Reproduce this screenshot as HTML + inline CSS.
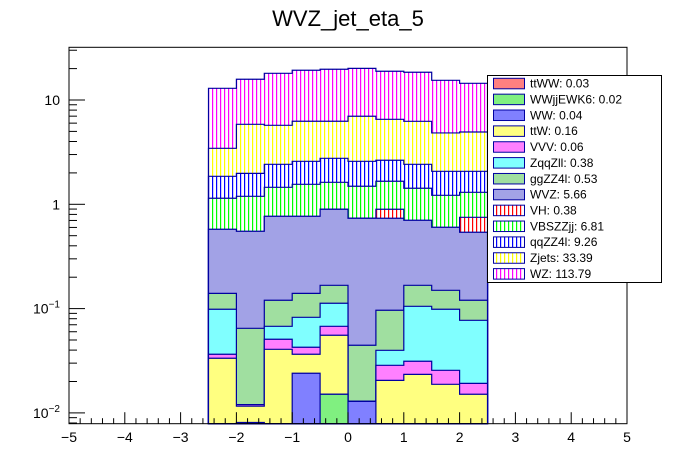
<!DOCTYPE html>
<html><head><meta charset="utf-8">
<style>
html,body{margin:0;padding:0;background:#fff;}
svg{display:block;font-family:"Liberation Sans",Arial,sans-serif;}
</style></head>
<body>
<svg id="chart" width="696" height="472" viewBox="0 0 696 472" xmlns="http://www.w3.org/2000/svg">
<defs id="defs"></defs>
<rect x="0" y="0" width="696" height="472" fill="#fff"/>
<text x="348" y="26" font-size="22" text-anchor="middle" fill="#000">WVZ_jet_eta_5</text>
<g id="plot"></g>
<g id="axes"></g>
<g id="legend"></g>
</svg>
<script>
const binEdges = [-2.5,-2,-1.5,-1,-0.5,0,0.5,1,1.5,2,2.5];
const processNames = ["ttWW","WWjjEWK6","WW","ttW","VVV","ZqqZll","ggZZ4l","WVZ","VH","VBSZZjj","qqZZ4l","Zjets","WZ"];
const legendTotals = ["0.03","0.02","0.04","0.16","0.06","0.38","0.53","5.66","0.38","6.81","9.26","33.39","113.79"];
const ttWW     = [0,0,0,0,0,0,0,0,0,0];
const WWjjEWK6 = [0,0,0,0,0.0151,0,0,0,0,0];
const WW       = [0,0.0081,0,0.0240,0,0.0129,0,0,0,0];
const ttW      = [0.0334,0.0035,0.0407,0.0125,0.0404,0,0.0205,0.0234,0.0188,0.0151];
const VVV      = [0.0031,0.0004,0.0101,0.0061,0.0121,0,0.0081,0.0079,0.0068,0.0041];
const ZqqZll   = [0.062,0,0.0168,0.0399,0.0449,0,0.0112,0.0739,0.0729,0.058];
const ggZZ4l   = [0.0415,0.0527,0.0526,0.0575,0.0548,0.0316,0.0566,0.0621,0.0513,0.043];
const WVZ      = [0.436,0.486,0.647,0.627,0.729,0.690,0.638,0.535,0.452,0.419];
const VH       = [0,0,0,0,0,0,0.162,0,0,0.211];
const VBSZZjj  = [0.566,0.642,0.688,0.788,0.729,0.754,0.766,0.722,0.618,0.553];
const qqZZ4l   = [0.713,0.787,0.963,1.028,1.136,1.095,0.98,0.994,0.852,0.769];
const Zjets    = [1.585,3.87,3.30,3.67,3.49,4.40,3.89,3.83,2.76,2.86];
const WZ       = [9.51,9.95,12.31,13.02,13.45,13.12,12.32,12.19,10.62,9.53];
const xTicks = [-5,-4,-3,-2,-1,0,1,2,3,4,5];
const yTickDecades = [0.01,0.1,1,10];

const series = [ttWW,WWjjEWK6,WW,ttW,VVV,ZqqZll,ggZZ4l,WVZ,VH,VBSZZjj,qqZZ4l,Zjets,WZ];
const styles = [
 {t:"c",c:"#ff8080"},{t:"c",c:"#80f080"},{t:"c",c:"#8080ff"},{t:"c",c:"#ffff80"},
 {t:"c",c:"#ff80ff"},{t:"c",c:"#80ffff"},{t:"c",c:"#a0dfa0"},{t:"c",c:"#a2a2e6"},
 {t:"v",c:"#ff0000"},{t:"v",c:"#00ff00"},{t:"v",c:"#0000ff"},{t:"v",c:"#ffff00"},{t:"v",c:"#ff00ff"}];

const NS="http://www.w3.org/2000/svg";
const X0=69,X1=627,Y0=47.3,Y1=423.7;
function xs(v){return X0+(v+5)*(X1-X0)/10;}
function ys(v){ if(v<=0) return Y1; let y=204.3-104.3*Math.log10(v); return Math.max(Y0,Math.min(Y1,y));}
function mk(tag,attrs,parent){const e=document.createElementNS(NS,tag);for(const k in attrs)e.setAttribute(k,attrs[k]);parent.appendChild(e);return e;}

const defs=document.getElementById('defs');
function fillFor(i){
  const s=styles[i];
  return s.t==='v' ? 'url(#pat'+i+')' : s.c;
}
styles.forEach((s,i)=>{
  if(s.t!=='v')return;
  const p=mk('pattern',{id:'pat'+i,patternUnits:'userSpaceOnUse',width:4,height:4},defs);
  mk('rect',{x:0,y:0,width:4,height:4,fill:'#fff'},p);
  mk('rect',{x:0,y:0,width:1.2,height:4,fill:s.c},p);
});

const nb=binEdges.length-1;
const cum=[];let run=new Array(nb).fill(0);
series.forEach(s=>{run=run.map((r,i)=>r+s[i]);cum.push(run.slice());});

const plot=document.getElementById('plot');
for(let k=series.length-1;k>=0;k--){
  const c=cum[k];
  let d='M'+xs(binEdges[0])+','+Y1;
  for(let i=0;i<nb;i++){const y=ys(c[i]);d+=' L'+xs(binEdges[i])+','+y+' L'+xs(binEdges[i+1])+','+y;}
  d+=' L'+xs(binEdges[nb])+','+Y1+' Z';
  const p=mk('path',{d:d,fill:fillFor(k),stroke:'#0000a0','stroke-width':1.2},plot);
  
  
}

const axes=document.getElementById('axes');
const frame=mk('rect',{x:X0,y:Y0,width:X1-X0,height:Y1-Y0,fill:'none',stroke:'#000','stroke-width':1},axes);


for(let v=-5;v<=5.001;v+=0.2){
  const major=Math.abs(v-Math.round(v))<1e-6;
  const x=xs(v);
  mk('line',{x1:x,x2:x,y1:Y1,y2:Y1-(major?11.5:5.5),stroke:'#000','stroke-width':1},axes);
}
xTicks.forEach(v=>{
  const t=mk('text',{x:xs(v),y:442,'font-size':14,'text-anchor':'middle',fill:'#000'},axes);
  t.textContent=(v<0?'\u2212'+(-v):String(v));
  
  
});
for(let e=-3;e<=1;e++){
  for(let m=1;m<=9;m++){
    const v=m*Math.pow(10,e);
    const y=204.3-104.3*Math.log10(v);
    if(y<Y0-0.5||y>Y1+0.5)continue;
    mk('line',{x1:X0,x2:X0+(m===1?16:8),y1:y,y2:y,stroke:'#000','stroke-width':1},axes);
  }
}
yTickDecades.forEach(v=>{
  const y=ys(v);
  const t=mk('text',{x:60,y:y+5,'font-size':14,'text-anchor':'end',fill:'#000'},axes);
  
  
  const lg=Math.round(Math.log10(v));
  if(lg>=0){t.textContent=String(v);}
  else{
    t.textContent='10';
    const s=mk('tspan',{dy:-6,'font-size':10},t);s.textContent='\u2212'+(-lg);
  }
});

const leg=document.getElementById('legend');
const lb=mk('rect',{x:487.5,y:75.5,width:174,height:207,fill:'#fff',stroke:'#000','stroke-width':1},leg);


processNames.forEach((n,i)=>{
  const cy=83.3+i*15.86;
  const g=mk('g',{},leg);
  
  
  mk('rect',{x:493.5,y:cy-5,width:31,height:10.5,fill:fillFor(i),stroke:'#0000a0','stroke-width':1},g);
  const t=mk('text',{x:530,y:cy+4.3,'font-size':12,fill:'#000'},g);
  t.textContent=n+': '+legendTotals[i];
});
</script>
</body></html>
